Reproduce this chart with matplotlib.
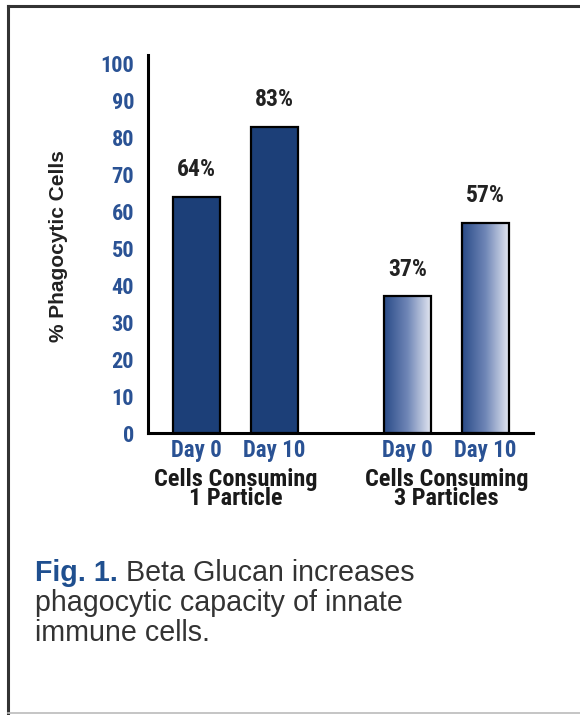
import matplotlib
matplotlib.use("Agg")
import matplotlib.pyplot as plt
import numpy as np
from matplotlib import font_manager
from matplotlib.lines import Line2D

# ---- data ----
day_labels = ["Day 0", "Day 10", "Day 0", "Day 10"]
values = [64, 83, 37, 57]
value_labels = ["64%", "83%", "37%", "57%"]
group_labels = ["Cells Consuming\n1 Particle", "Cells Consuming\n3 Particles"]
yticks = list(range(0, 101, 10))
ylabel = "% Phagocytic Cells"

names = {f.name for f in font_manager.fontManager.ttflist}
narrow = next((n for n in ["Liberation Sans Narrow", "DejaVu Sans Condensed", "Roboto Condensed"] if n in names), "Liberation Sans")
sans = "Liberation Sans" if "Liberation Sans" in names else "DejaVu Sans"

BLUE_TXT = "#2a5294"
BAR = "#1c3f78"

fig = plt.figure(figsize=(5.8, 7.15), dpi=100)
fig.patch.set_facecolor("white")
ax = fig.add_axes([148/580, 1-433/715, (533-148)/580, (433-55)/715])

x = np.array([0, 1, 2.7, 3.7])
width = 0.6
bars = ax.bar(x, values, width=width, color=[BAR, BAR, "none", "none"],
              edgecolor="black", linewidth=1.6, zorder=3)

# gradient fill for the "3 particles" group
grad = np.linspace(0, 1, 256).reshape(1, -1)
cmap = matplotlib.colors.LinearSegmentedColormap.from_list("g", ["#2a4b88", "#6f86b6", "#e2e6f1"])
for b in bars[2:]:
    im = ax.imshow(grad, cmap=cmap, aspect="auto", zorder=2,
                   extent=[b.get_x(), b.get_x()+b.get_width(), 0, b.get_height()])
    im.set_clip_path(b)

ax.set_xlim(-0.62, 4.31)
ax.set_ylim(0, 102.4)
ax.set_yticks(yticks)
ax.set_yticklabels([str(t) for t in yticks], family=narrow, fontweight="bold",
                   fontsize=16, color=BLUE_TXT)
ax.tick_params(axis="y", length=0, pad=10)
ax.set_xticks(x)
ax.set_xticklabels(day_labels, family=narrow, fontweight="bold", fontsize=16.5, color=BLUE_TXT)
ax.tick_params(axis="x", length=0, pad=4)

for s in ["top", "right"]:
    ax.spines[s].set_visible(False)
for s in ["left", "bottom"]:
    ax.spines[s].set_linewidth(2.2)
    ax.spines[s].set_color("black")

for xi, v, lab in zip(x, values, value_labels):
    ax.annotate(lab, (xi, v), xytext=(0, 11), textcoords="offset points",
                ha="center", va="bottom", family=narrow, fontweight="bold",
                fontsize=17, color="#222222")

gcent = [(x[0]+x[1])/2, (x[2]+x[3])/2]
for gx, gl in zip(gcent, group_labels):
    ax.annotate(gl, (gx, 0), xycoords=("data", "axes fraction"), xytext=(0, -25),
                textcoords="offset points", ha="center", va="top",
                family=narrow, fontweight="bold", fontsize=17.5, color="#1a1a1a",
                linespacing=0.78)

ax.set_ylabel(ylabel, family=sans, fontweight="bold", fontsize=15, color="#222222")
ax.yaxis.set_label_coords((68-148)/(533-148), (433-246)/(433-55))

# caption
cax = fig.add_axes([0, 0, 1, 1], zorder=-1)
cax.set_xlim(0, 580)
cax.set_ylim(715, 0)
cax.axis("off")
cap_fs = 20.6
t1 = cax.text(35, 581, "Fig. 1.", family=sans, fontweight="bold", fontsize=cap_fs,
              color="#1f4f8f", va="baseline", ha="left")
cax.annotate(" Beta Glucan increases", xy=(1, 0), xycoords=t1, va="bottom", ha="left",
             family=sans, fontsize=cap_fs, color="#333333")
cax.text(35, 611, "phagocytic capacity of innate", family=sans, fontsize=cap_fs,
         color="#333333", va="baseline", ha="left")
cax.text(35, 641, "immune cells.", family=sans, fontsize=cap_fs,
         color="#333333", va="baseline", ha="left")

# frame
cax.add_line(Line2D([8, 600], [6, 6], color="#333333", lw=2.2))
cax.add_line(Line2D([8, 8], [6, 713], color="#333333", lw=2.2))
cax.add_line(Line2D([8, 600], [713, 713], color="#bbbbbb", lw=1.2))

fig.savefig("out.png", dpi=100)
